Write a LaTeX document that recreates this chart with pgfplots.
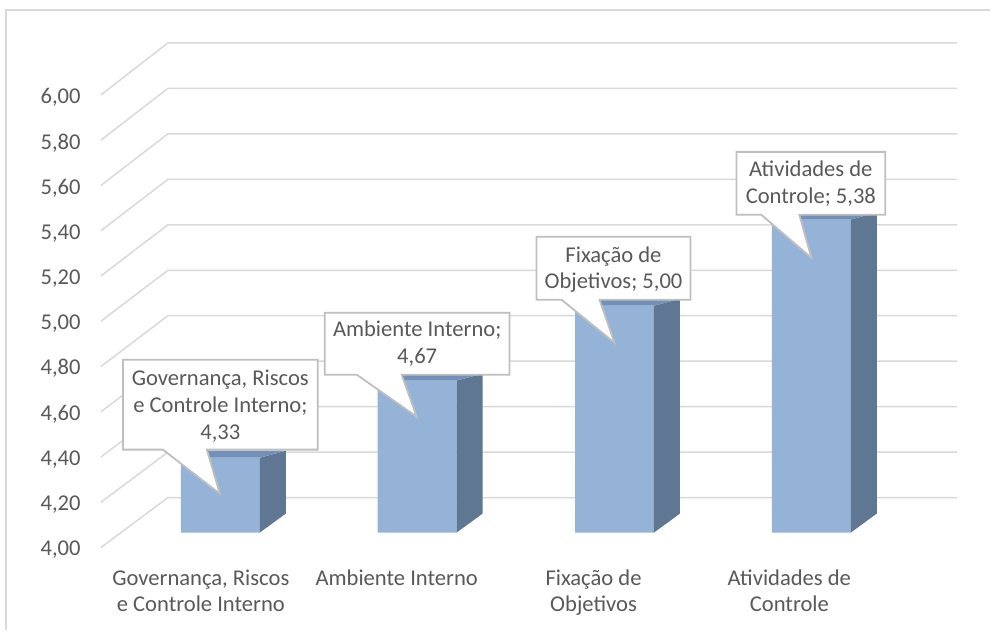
\documentclass[border=0pt]{standalone}
\usepackage{pgfplots}
\pgfplotsset{compat=1.18}
\usepackage{fontspec}
\setmainfont{Carlito}
\definecolor{txt}{HTML}{595959}
\definecolor{grid}{HTML}{D9D9D9}
\definecolor{front}{HTML}{95B3D7}
\definecolor{side}{HTML}{5F7793}
\definecolor{topf}{HTML}{7391B8}
\definecolor{cbord}{HTML}{BFBFBF}
\begin{document}
\fontsize{11.3}{13}\selectfont
\begin{tikzpicture}
\begin{axis}[
  scale only axis, width=495.5pt, height=315.5pt,
  xmin=0, xmax=991, ymin=-98, ymax=533,
  hide axis, clip=false,
]
% background / bounding box
\fill[white] (axis cs:0,-98) rectangle (axis cs:991,533);
% frame
\draw[grid, line width=0.8pt] (axis cs:6,-98) -- (axis cs:6,523) -- (axis cs:991,523);
% wall and back gridlines
\pgfplotsinvokeforeach{0,...,10}{
  \draw[grid, line width=0.75pt] (axis cs:101,{438-45.3*#1}) -- (axis cs:168,{490-45.5*#1}) -- (axis cs:958,{490-45.5*#1});
}
% tick labels
\begin{scope}[every node/.style={anchor=base east, inner sep=0pt, text=txt}]
\node at (axis cs:81,{429-45.2*0}) {6,00};
\node at (axis cs:81,{429-45.2*1}) {5,80};
\node at (axis cs:81,{429-45.2*2}) {5,60};
\node at (axis cs:81,{429-45.2*3}) {5,40};
\node at (axis cs:81,{429-45.2*4}) {5,20};
\node at (axis cs:81,{429-45.2*5}) {5,00};
\node at (axis cs:81,{429-45.2*6}) {4,80};
\node at (axis cs:81,{429-45.2*7}) {4,60};
\node at (axis cs:81,{429-45.2*8}) {4,40};
\node at (axis cs:81,{429-45.2*9}) {4,20};
\node at (axis cs:81,{429-45.2*10}) {4,00};
\end{scope}
% bars: front faces
\addplot[ybar, bar width=79, fill=front, draw=none, y filter/.expression={227*(y-4)}]
  coordinates {(220.5,4.33) (417.5,4.67) (615,5.00) (812,5.38)};
% side faces
\addplot[fill=side, draw=none, y filter/.expression={227*(y-4)}]
  coordinates {(260,4) (286,4.0837) (286,4.3608) (260,4.33)} -- cycle;
\addplot[fill=side, draw=none, y filter/.expression={227*(y-4)}]
  coordinates {(457,4) (483,4.0837) (483,4.7008) (457,4.67)} -- cycle;
\addplot[fill=side, draw=none, y filter/.expression={227*(y-4)}]
  coordinates {(654.5,4) (680.5,4.0837) (680.5,5.0308) (654.5,5.00)} -- cycle;
\addplot[fill=side, draw=none, y filter/.expression={227*(y-4)}]
  coordinates {(851.5,4) (877.5,4.0837) (877.5,5.4108) (851.5,5.38)} -- cycle;
% top faces
\addplot[fill=topf, draw=none, y filter/.expression={227*(y-4)}]
  coordinates {(181,4.33) (260,4.33) (286,4.3608) (207,4.3608)} -- cycle;
\addplot[fill=topf, draw=none, y filter/.expression={227*(y-4)}]
  coordinates {(378,4.67) (457,4.67) (483,4.7008) (404,4.7008)} -- cycle;
\addplot[fill=topf, draw=none, y filter/.expression={227*(y-4)}]
  coordinates {(575.5,5.00) (654.5,5.00) (680.5,5.0308) (601.5,5.0308)} -- cycle;
\addplot[fill=topf, draw=none, y filter/.expression={227*(y-4)}]
  coordinates {(772.5,5.38) (851.5,5.38) (877.5,5.4108) (798.5,5.4108)} -- cycle;
% category labels
\begin{scope}[every node/.style={anchor=base, inner sep=0pt, text=txt}]
\node at (axis cs:201,-53) {Governança, Riscos};
\node at (axis cs:201,-79) {e Controle Interno};
\node at (axis cs:397,-53) {Ambiente Interno};
\node at (axis cs:594,-53) {Fixação de};
\node at (axis cs:594,-79) {Objetivos};
\node at (axis cs:790,-53) {Atividades de};
\node at (axis cs:790,-79) {Controle};
\end{scope}
% callouts
\begin{scope}[cbord, line width=0.9pt, fill=white]
\filldraw[fill=white] (axis cs:123,173) -- (axis cs:123,83) -- (axis cs:163,83) -- (axis cs:220,39) -- (axis cs:207,83) -- (axis cs:318,83) -- (axis cs:318,173) -- cycle;
\filldraw[fill=white] (axis cs:325,220) -- (axis cs:325,158) -- (axis cs:357,158) -- (axis cs:417,116) -- (axis cs:402,158) -- (axis cs:510,158) -- (axis cs:510,220) -- cycle;
\filldraw[fill=white] (axis cs:537,296) -- (axis cs:537,233) -- (axis cs:562,233) -- (axis cs:615,190) -- (axis cs:600,233) -- (axis cs:691,233) -- (axis cs:691,296) -- cycle;
\filldraw[fill=white] (axis cs:737,381) -- (axis cs:737,318) -- (axis cs:762,318) -- (axis cs:812,275) -- (axis cs:800,318) -- (axis cs:886,318) -- (axis cs:886,381) -- cycle;
\end{scope}
\begin{scope}[every node/.style={anchor=base, inner sep=0pt, text=txt}]
\node at (axis cs:220.5,147) {Governança, Riscos};
\node at (axis cs:220.5,120) {e Controle Interno;};
\node at (axis cs:220.5,93) {4,33};
\node at (axis cs:417.5,196) {Ambiente Interno;};
\node at (axis cs:417.5,169) {4,67};
\node at (axis cs:614,270) {Fixação de};
\node at (axis cs:614,244) {Objetivos; 5,00};
\node at (axis cs:811.5,356) {Atividades de};
\node at (axis cs:811.5,329) {Controle; 5,38};
\end{scope}
\end{axis}
\end{tikzpicture}
\end{document}
